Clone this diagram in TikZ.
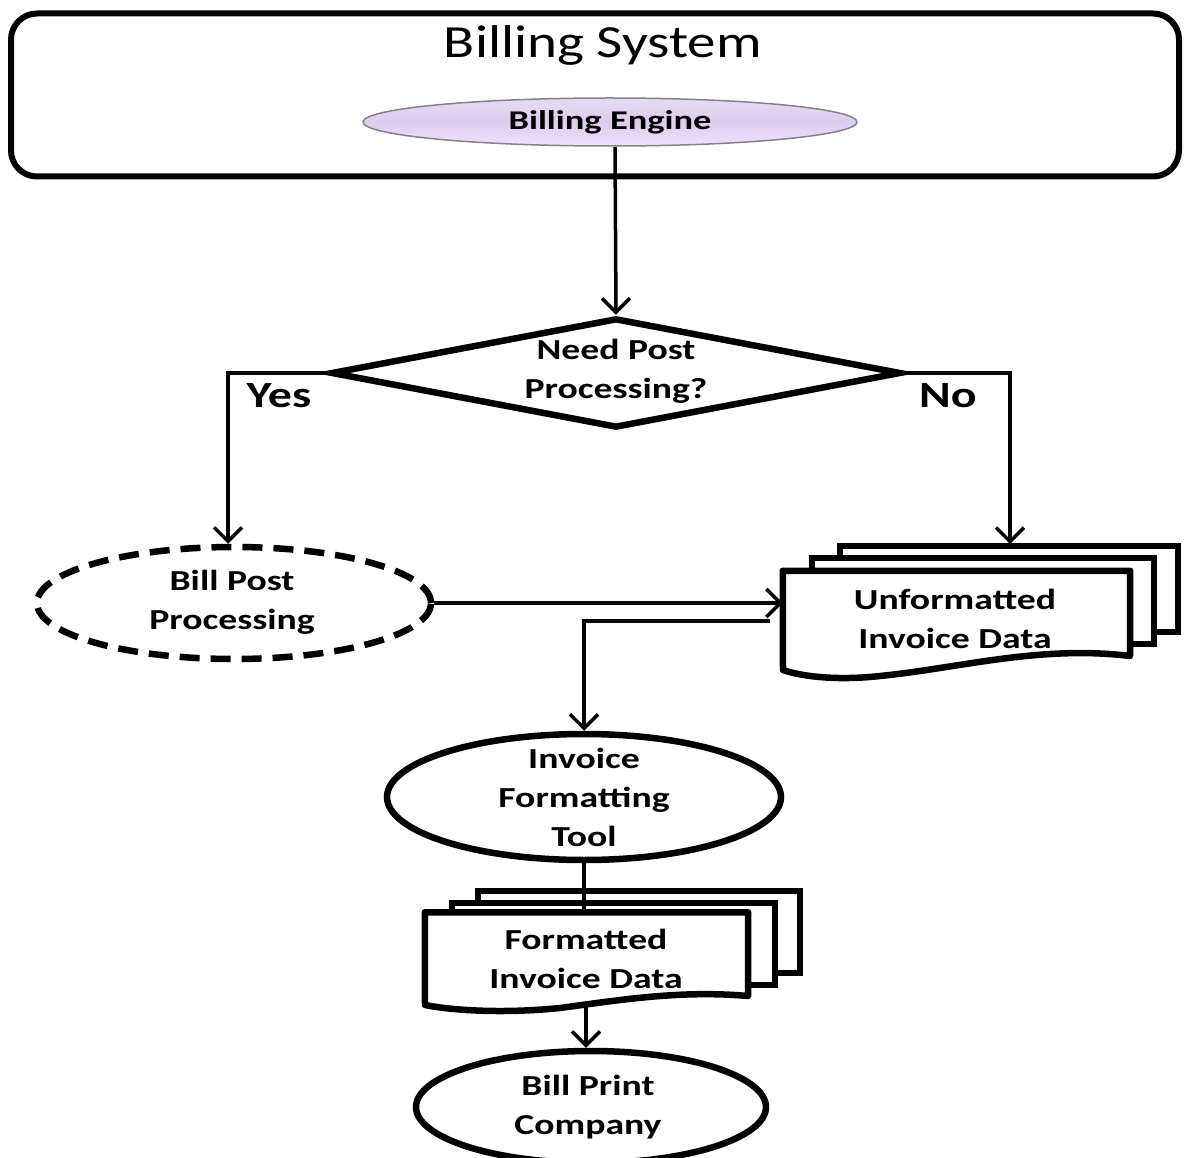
\documentclass[tikz,border=0pt]{standalone}
\usepackage{fontspec}
\setmainfont{Carlito}
\newfontfamily\titlefont[FakeStretch=1.24]{Carlito}
\newfontfamily\lblfont[FakeStretch=1.3]{Carlito}
\newfontfamily\engfont[FakeStretch=1.35]{Carlito}
\usetikzlibrary{shapes.geometric,arrows.meta}
\definecolor{engfill}{RGB}{221,204,236}
\definecolor{enggray}{RGB}{130,130,140}
\tikzset{
  x=1pt,y=-1pt,
  conn/.style={line width=3.5pt,-{Straight Barb[length=14pt,width=28pt,line width=3.5pt]}},
  plain/.style={line width=3.5pt},
  shapeline/.style={line width=6.5pt},
  lbl/.style={font=\lblfont\fontsize{29}{39}\selectfont\bfseries,align=center,inner sep=0pt},
  ell/.style={ellipse,draw,shapeline,fill=white,inner sep=0pt},
  docbox/.style={inner sep=0pt,draw=none},
  yn/.style={font=\lblfont\fontsize{37}{40}\selectfont\bfseries,inner sep=0pt},
}
\begin{document}
\begin{tikzpicture}
\useasboundingbox (0,0) rectangle (1184,1158);
% Billing system container
\node[draw,line width=6pt,rounded corners=26pt,minimum width=1168pt,minimum height=163pt,inner sep=0pt] (sys) at (595,95) {};
\node[font=\titlefont\fontsize{46}{50}\selectfont,inner sep=0pt] (systitle) at (603,45) {Billing System};
\node[ellipse,draw=enggray,line width=1.5pt,top color=engfill!70,bottom color=engfill!110!black,middle color=engfill,minimum width=494pt,minimum height=48pt,inner sep=0pt,font=\engfont\fontsize{27}{30}\selectfont\bfseries] (eng) at (610,122) {Billing Engine};
% decision
\node[diamond,draw,shapeline,aspect=5,minimum width=570pt,minimum height=110pt,inner sep=0pt] (dec) at (616,373) {};
\node[lbl] (dectxt) at (616,371) {Need Post\\Processing?};
% bill post processing
\node[ell,dashed,dash pattern=on 20pt off 11pt,minimum width=394pt,minimum height=112pt] (bpp) at (234,603) {};
\node[lbl] (bpptxt) at (232,602) {Bill Post\\Processing};
% unformatted docs
\draw[shapeline,fill=white] (840,546) rectangle (1178,632);
\draw[shapeline,fill=white] (812,558) rectangle (1154,644);
\node[docbox,minimum width=347pt,minimum height=88pt] (ud) at (956.5,615) {};
\draw[shapeline,fill=white,line join=round] (ud.north west) -- (ud.north east) -- (1130,656)
  .. controls (1040,645) and (960,668) .. (880,676) .. controls (835,681) and (800,676) .. (783,670) -- cycle;
\node[lbl] (udtxt) at (955,619) {Unformatted\\Invoice Data};
% invoice formatting tool
\node[ell,minimum width=394pt,minimum height=126pt] (ift) at (584,797) {};
\node[lbl,align=center] (ifttxt) at (584,797) {Invoice\\Formatting\\Tool};
% formatted docs
\draw[shapeline,fill=white] (478,891) rectangle (800,973);
\draw[shapeline,fill=white] (452,903) rectangle (775,985);
\node[docbox,minimum width=323pt,minimum height=85pt] (fd) at (586.5,955) {};
\draw[shapeline,fill=white,line join=round] (fd.north west) -- (fd.north east) -- (748,996)
  .. controls (680,990) and (620,1000) .. (560,1008) .. controls (500,1014) and (450,1010) .. (425,1005) -- cycle;
\node[lbl] (fdtxt) at (586,959) {Formatted\\Invoice Data};
% bill print company
\node[ell,minimum width=350pt,minimum height=112pt] (bpc) at (591,1107) {};
\node[lbl] (bpctxt) at (588,1107) {Bill Print\\Company};
% connectors
\coordinate (engb) at (615,147);
\draw[conn] (engb) -- (dec.north);
\draw[conn] (dec.west) -- (228,373) -- (bpp.north -| 228,0);
\draw[conn] (dec.east) -- (1010,373) -- (1010,544);
\draw[conn] (bpp.east) -- (ud.west |- bpp.east);
\coordinate (udout) at (770,621);
\draw[conn] (udout) -- (584,621) -- (ift.north);
\draw[plain] (ift.south) -- (fd.north -| ift.south);
\draw[conn] (586,1006) -- (bpc.north -| 586,0);
% labels
\node[yn] (yes) at (279,396) {Yes};
\node[yn] (no) at (948,396) {No};
\end{tikzpicture}
\end{document}
